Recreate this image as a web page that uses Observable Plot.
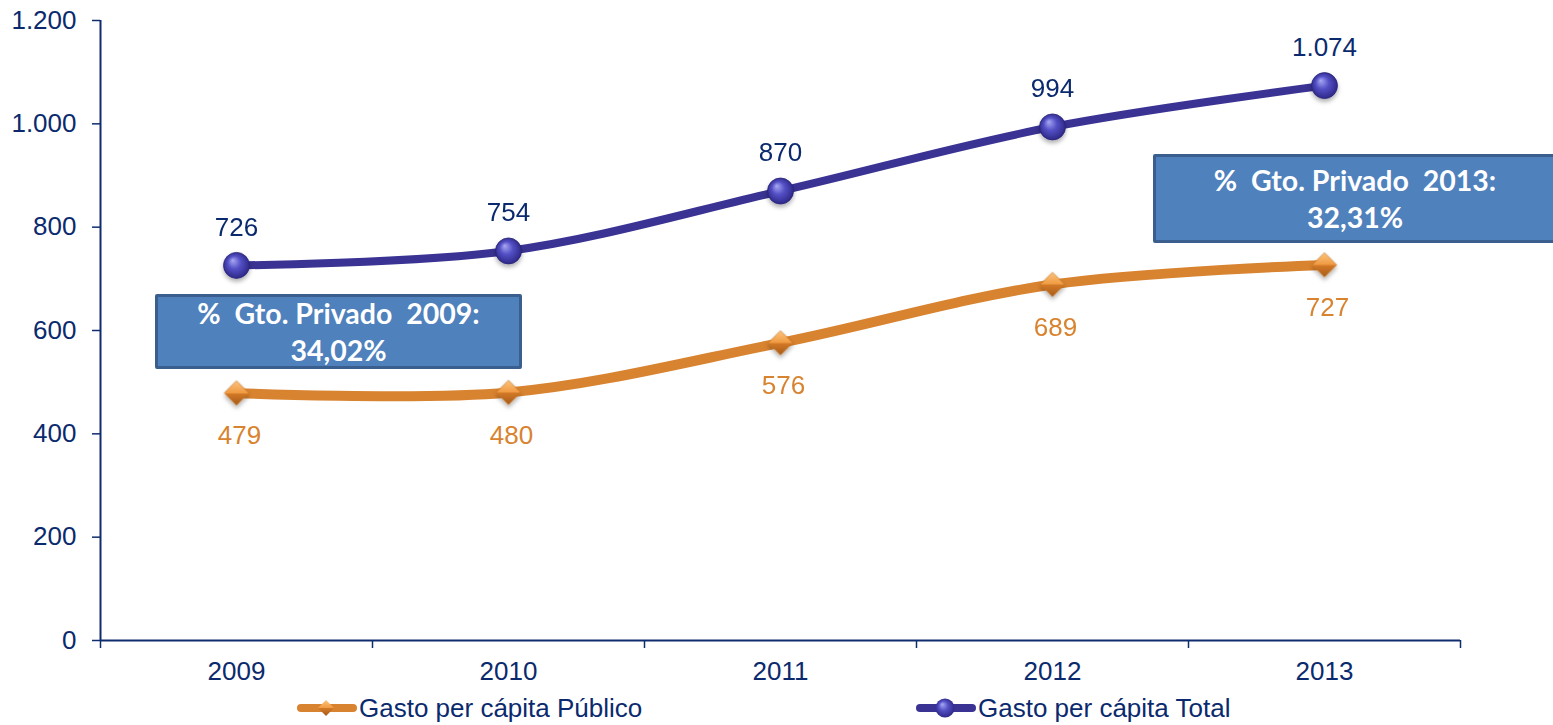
<!DOCTYPE html>
<html><head><meta charset="utf-8">
<script src="https://cdn.jsdelivr.net/npm/d3@7"></script>
<script src="https://cdn.jsdelivr.net/npm/@observablehq/plot@0.6"></script>
<style>
html,body{margin:0;padding:0;background:#fff;}
body{width:1553px;height:725px;position:relative;overflow:hidden;font-family:"Liberation Sans",Arial,sans-serif;}
#chart{position:absolute;left:0;top:0;}
.box{position:absolute;box-sizing:border-box;background:#4F81BD;border:3px solid #3A5F8E;border-radius:2px;color:#fff;
 font-family:Lato,"Open Sans",sans-serif;font-weight:bold;font-size:28.5px;line-height:37px;white-space:pre;text-align:center;
 display:flex;flex-direction:column;justify-content:center;}
.leg{position:absolute;top:693px;height:30px;display:flex;align-items:center;font-size:26px;color:#0B2A6E;white-space:nowrap;}
.leg svg{display:block;}
</style></head><body>
<div id="chart"></div>
<script>
const years = [2009, 2010, 2011, 2012, 2013];
const publico = [479, 480, 576, 689, 727];
const total = [726, 754, 870, 994, 1074];
const yTicks = [0, 200, 400, 600, 800, 1000, 1200];
const seriesNames = ["Gasto per cápita Público", "Gasto per cápita Total"];
const boxLines = [["%  Gto. Privado  2009:", "34,02%"], ["%  Gto. Privado  2013:", "32,31%"]];

const orange = "#D8832F", blue = "#3A3393", textColor = "#0B2A6E", axisColor = "#0F2D6E";
const fmt = d3.formatLocale({decimal: ",", thousands: ".", grouping: [3], currency: ["", ""]}).format(",");

const pub = years.map((y, i) => ({year: y, value: publico[i]}));
const tot = years.map((y, i) => ({year: y, value: total[i]}));
const xDomain = [years[0] - 0.5, years[years.length - 1] + 0.5];
const bounds = years.map(y => y - 0.5).concat([xDomain[1]]);

const plot = Plot.plot({
  width: 1553, height: 690,
  marginLeft: 100, marginRight: 93, marginTop: 20, marginBottom: 50,
  x: {domain: xDomain},
  y: {domain: [0, 1200]},
  style: {fontFamily: '"Liberation Sans", Arial, sans-serif', fontSize: "26px", color: textColor, background: "transparent"},
  marks: [
    Plot.axisY({ticks: yTicks, tickSize: 8, tickPadding: 16, tickFormat: fmt, label: null, stroke: axisColor, strokeWidth: 1.5, fill: textColor, fontSize: 26}),
    Plot.axisX({ticks: bounds, tickSize: 8, tickFormat: () => "", label: null, stroke: axisColor, strokeWidth: 1.5}),
    Plot.axisX({ticks: years, tickSize: 0, tickPadding: 21, tickFormat: d => String(d), label: null, fill: textColor, fontSize: 26}),
    Plot.ruleX([xDomain[0]], {stroke: axisColor, strokeWidth: 2}),
    Plot.ruleY([0], {stroke: axisColor, strokeWidth: 2}),
    Plot.line(pub, {x: "year", y: "value", curve: "catmull-rom", stroke: orange, strokeWidth: 10, strokeLinecap: "round"}),
    Plot.line(tot, {x: "year", y: "value", curve: "catmull-rom", stroke: blue, strokeWidth: 8, strokeLinecap: "round"}),
    Plot.dot(pub, {x: "year", y: "value", symbol: "diamond2", r: 11, fill: "url(#gOrange)", stroke: "#C06E22", strokeWidth: 0.6, className: "mk"}),
    Plot.dot(tot, {x: "year", y: "value", r: 13, fill: "url(#gBlue)", stroke: "#2A2578", strokeWidth: 0.8, className: "mk"}),
    Plot.text(tot, {x: "year", y: "value", text: d => fmt(d.value), dy: -38, fill: textColor, fontSize: 26}),
    Plot.text(pub, {x: "year", y: "value", text: d => fmt(d.value), dy: 43, dx: 3, fill: orange, fontSize: 26})
  ]
});

const defs = document.createElementNS("http://www.w3.org/2000/svg", "defs");
defs.innerHTML = `
<radialGradient id="gBlue" cx="0.5" cy="0.5" r="0.55" fx="0.35" fy="0.3">
  <stop offset="0" stop-color="#A9A8F2"/><stop offset="0.45" stop-color="#5450C6"/><stop offset="1" stop-color="#28237F"/>
</radialGradient>
<linearGradient id="gOrange" x1="0" y1="0" x2="0" y2="1">
  <stop offset="0" stop-color="#FCC47E"/><stop offset="0.5" stop-color="#F09A42"/><stop offset="0.51" stop-color="#D47A28"/><stop offset="1" stop-color="#A65A18"/>
</linearGradient>
<filter id="sh" x="-50%" y="-50%" width="200%" height="200%"><feDropShadow dx="0" dy="3" stdDeviation="2" flood-color="#000" flood-opacity="0.3"/></filter>`;
plot.insertBefore(defs, plot.firstChild);
plot.querySelectorAll(".mk").forEach(g => g.setAttribute("filter", "url(#sh)"));
document.getElementById("chart").appendChild(plot);

// annotation boxes
const boxGeo = [{left: 155, top: 294, width: 367, height: 75}, {left: 1153, top: 154, width: 404, height: 89}];
boxLines.forEach((lines, i) => {
  const d = document.createElement("div");
  d.className = "box";
  Object.assign(d.style, {left: boxGeo[i].left + "px", top: boxGeo[i].top + "px", width: boxGeo[i].width + "px", height: boxGeo[i].height + "px"});
  lines.forEach(t => { const s = document.createElement("div"); s.textContent = t; d.appendChild(s); });
  document.body.appendChild(d);
});

// legend
const legGeo = [293, 912];
const swatch = (i) => {
  const mk = i === 0
    ? `<path d="M33 6 L41 14 L33 22 L25 14 Z" fill="url(#lgO)"/>`
    : `<circle cx="33" cy="14" r="9.5" fill="url(#lgB)"/>`;
  return `<svg width="66" height="28" viewBox="0 0 66 28">
  <defs><radialGradient id="lgB" cx="0.5" cy="0.5" r="0.55" fx="0.35" fy="0.3"><stop offset="0" stop-color="#A9A8F2"/><stop offset="0.45" stop-color="#5450C6"/><stop offset="1" stop-color="#28237F"/></radialGradient>
  <linearGradient id="lgO" x1="0" y1="0" x2="0" y2="1"><stop offset="0" stop-color="#FCC47E"/><stop offset="0.5" stop-color="#F09A42"/><stop offset="0.51" stop-color="#D47A28"/><stop offset="1" stop-color="#A65A18"/></linearGradient></defs>
  <line x1="8" y1="14" x2="60" y2="14" stroke="${i === 0 ? orange : blue}" stroke-width="8" stroke-linecap="round"/>${mk}</svg>`;
};
seriesNames.forEach((name, i) => {
  const d = document.createElement("div");
  d.className = "leg";
  d.style.left = legGeo[i] + "px";
  d.innerHTML = swatch(i) + `<span>${name}</span>`;
  document.body.appendChild(d);
});
</script>
</body></html>
